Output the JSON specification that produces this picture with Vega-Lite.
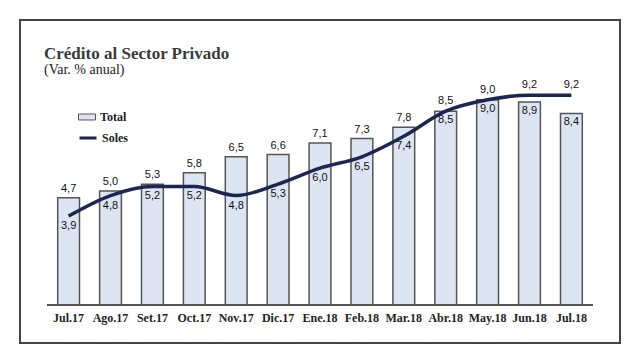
{
  "$schema": "https://vega.github.io/schema/vega-lite/v6.json",
  "width": 600,
  "height": 323,
  "autosize": {"type": "none"},
  "padding": {"left": 20, "top": 20, "right": 20, "bottom": 21},
  "background": "white",
  "title": {
    "text": "Crédito al Sector Privado",
    "subtitle": "(Var. % anual)",
    "anchor": "start",
    "frame": "group",
    "orient": "top",
    "offset": -58,
    "dx": 24,
    "font": "Liberation Serif",
    "fontSize": 17,
    "fontWeight": "bold",
    "color": "#3a3a3a",
    "subtitleFont": "Liberation Serif",
    "subtitleFontSize": 14,
    "subtitleColor": "#222222",
    "subtitlePadding": 0
  },
  "config": {
    "view": {"stroke": "#444444", "strokeWidth": 2},
    "locale": {"number": {"decimal": ",", "thousands": ".", "grouping": [3], "currency": ["", ""]}}
  },
  "data": {
    "values": [
      {"mes": "Jul.17", "total": 4.7, "soles": 3.9},
      {"mes": "Ago.17", "total": 5.0, "soles": 4.8},
      {"mes": "Set.17", "total": 5.3, "soles": 5.2},
      {"mes": "Oct.17", "total": 5.8, "soles": 5.2},
      {"mes": "Nov.17", "total": 6.5, "soles": 4.8},
      {"mes": "Dic.17", "total": 6.6, "soles": 5.3},
      {"mes": "Ene.18", "total": 7.1, "soles": 6.0},
      {"mes": "Feb.18", "total": 7.3, "soles": 6.5},
      {"mes": "Mar.18", "total": 7.8, "soles": 7.4},
      {"mes": "Abr.18", "total": 8.5, "soles": 8.5},
      {"mes": "May.18", "total": 9.0, "soles": 9.0},
      {"mes": "Jun.18", "total": 8.9, "soles": 9.2},
      {"mes": "Jul.18", "total": 8.4, "soles": 9.2}
    ]
  },
  "encoding": {
    "x": {
      "field": "mes",
      "type": "nominal",
      "sort": null,
      "scale": {"paddingInner": 0.48, "paddingOuter": 0.9},
      "axis": {
        "title": null,
        "offset": -38,
        "domain": false,
        "ticks": false,
        "labelAngle": 0,
        "labelFont": "Liberation Serif",
        "labelFontSize": 12,
        "labelFontWeight": "bold",
        "labelColor": "#222222",
        "labelPadding": 7
      }
    }
  },
  "layer": [
    {
      "mark": {"type": "bar", "stroke": "#555555", "strokeWidth": 1.5},
      "encoding": {
        "y": {"field": "total", "type": "quantitative", "scale": {"domain": [-1.667, 12.5], "nice": false, "zero": false}, "axis": null},
        "fill": {
          "datum": "Total",
          "scale": {"range": ["#dde5f3"]},
          "legend": {
            "title": null,
            "orient": "none",
            "legendX": 58,
            "legendY": 88,
            "symbolType": "M-1,-0.35H1V0.35H-1Z",
            "symbolSize": 289,
            "symbolStrokeColor": "#555555",
            "symbolStrokeWidth": 1,
            "labelFont": "Liberation Serif",
            "labelFontSize": 12,
            "labelFontWeight": "bold",
            "labelColor": "#222222"
          }
        }
      }
    },
    {
      "mark": {"type": "rule", "color": "#555555", "strokeWidth": 2, "xOffset": -21, "x2Offset": 21},
      "encoding": {
        "x": {"datum": "Jul.17"},
        "x2": {"datum": "Jul.18"},
        "y": {"datum": 0, "type": "quantitative", "scale": {"domain": [-1.667, 12.5], "nice": false, "zero": false}, "axis": null}
      }
    },
    {
      "mark": {"type": "line", "strokeWidth": 3.5, "interpolate": "monotone"},
      "encoding": {
        "y": {"field": "soles", "type": "quantitative", "scale": {"domain": [-1.667, 12.5], "nice": false, "zero": false}, "axis": null},
        "stroke": {
          "datum": "Soles",
          "scale": {"range": ["#1b2752"]},
          "legend": {
            "title": null,
            "orient": "none",
            "legendX": 58,
            "legendY": 108,
            "symbolType": "stroke",
            "symbolSize": 289,
            "symbolStrokeWidth": 3,
            "labelFont": "Liberation Serif",
            "labelFontSize": 12,
            "labelFontWeight": "bold",
            "labelColor": "#222222"
          }
        }
      }
    },
    {
      "transform": [{"filter": "datum.total > datum.soles"}],
      "mark": {"type": "text", "baseline": "bottom", "dy": -4, "font": "Liberation Sans", "fontSize": 11, "color": "#111111"},
      "encoding": {
        "y": {"field": "total", "type": "quantitative", "scale": {"domain": [-1.667, 12.5], "nice": false, "zero": false}, "axis": null},
        "text": {"field": "total", "type": "quantitative", "format": ".1f"}
      }
    },
    {
      "transform": [{"filter": "datum.total <= datum.soles"}],
      "mark": {"type": "text", "baseline": "top", "dy": 3, "font": "Liberation Sans", "fontSize": 11, "color": "#111111"},
      "encoding": {
        "y": {"field": "total", "type": "quantitative", "scale": {"domain": [-1.667, 12.5], "nice": false, "zero": false}, "axis": null},
        "text": {"field": "total", "type": "quantitative", "format": ".1f"}
      }
    },
    {
      "transform": [{"filter": "datum.soles < datum.total"}],
      "mark": {"type": "text", "baseline": "top", "dy": 4, "font": "Liberation Sans", "fontSize": 11, "color": "#111111"},
      "encoding": {
        "y": {"field": "soles", "type": "quantitative", "scale": {"domain": [-1.667, 12.5], "nice": false, "zero": false}, "axis": null},
        "text": {"field": "soles", "type": "quantitative", "format": ".1f"}
      }
    },
    {
      "transform": [{"filter": "datum.soles >= datum.total"}],
      "mark": {"type": "text", "baseline": "bottom", "dy": -5, "font": "Liberation Sans", "fontSize": 11, "color": "#111111"},
      "encoding": {
        "y": {"field": "soles", "type": "quantitative", "scale": {"domain": [-1.667, 12.5], "nice": false, "zero": false}, "axis": null},
        "text": {"field": "soles", "type": "quantitative", "format": ".1f"}
      }
    }
  ]
}
